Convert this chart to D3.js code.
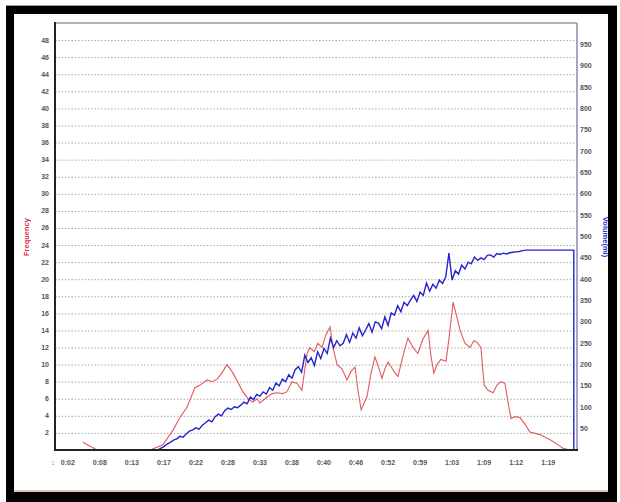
<!DOCTYPE html>
<html><head><meta charset="utf-8">
<script src="https://cdn.jsdelivr.net/npm/d3@7"></script>
<style>body{margin:0;background:#fff}svg{display:block}</style>
</head><body>
<svg id="c" width="620" height="502"></svg>
<script>
// ---- data ----
const xTickIdx = [4,14,24,34,44,54,64,74,84,94,104,114,124,134,144,154];
const xTickLabels = ["0:02","0:08","0:13","0:17","0:22","0:28","0:33","0:38","0:40","0:46","0:52","0:59","1:03","1:09","1:12","1:19"];
const leftTicks = [2,4,6,8,10,12,14,16,18,20,22,24,26,28,30,32,34,36,38,40,42,44,46,48];
const rightTicks = [50,100,150,200,250,300,350,400,450,500,550,600,650,700,750,800,850,900,950];

const freqIdx = [8.7,13.1,29.7,33.7,36.8,39.0,41.2,43.7,45.3,47.5,49.0,50.6,52.1,53.7,55.6,58.7,60.3,61.8,63.1,64.0,66.2,67.8,69.3,70.9,72.4,74.0,75.6,77.1,78.7,79.6,80.9,82.1,83.4,84.6,85.9,86.8,88.1,89.6,91.2,92.4,93.7,94.6,95.6,96.5,97.4,98.7,99.9,101.2,102.1,103.0,104.0,105.2,106.2,107.1,108.0,109.0,110.2,111.8,113.3,114.9,116.5,117.4,118.3,119.3,120.5,122.1,123.0,124.3,125.2,126.5,128.0,129.6,130.8,131.8,133.0,134.0,135.2,136.8,138.0,139.3,140.5,141.5,142.4,143.6,145.2,146.8,148.3,151.4,154.6,157.1,158.6,160.8];
const freqVals = [0.9,0,0,0.6,2.3,3.8,5.0,7.3,7.6,8.2,8.0,8.3,9.0,10.0,9.0,6.8,6.0,5.6,6.0,5.5,6.2,6.6,6.7,6.6,6.8,8.0,7.8,7.0,11.3,12.0,11.5,12.5,12.0,13.5,14.4,12.0,10.0,9.5,8.2,9.2,9.7,7.0,4.7,5.5,6.2,9.0,10.9,9.5,8.4,9.5,10.3,9.6,9.0,8.6,10.0,11.5,13.1,12.0,11.3,13.0,14.0,11.0,9.0,10.0,10.6,10.4,13.0,17.3,16.0,14.0,12.5,12.0,12.8,12.6,12.0,7.6,7.0,6.7,7.6,8.0,7.8,5.5,3.7,3.9,3.8,3.0,2.1,1.8,1.2,0.6,0.2,0];

const volStart = 32;
const volVals = [0,4,8,14,18,23,26,32,30,38,44,47,52,49,58,64,70,66,78,84,80,92,98,95,101,99,105,112,108,124,118,130,126,136,131,146,140,157,150,166,160,176,168,188,195,182,222,205,216,198,230,214,238,226,262,240,256,244,250,270,252,274,262,286,268,281,296,276,300,297,284,312,292,321,316,338,324,346,338,351,362,348,370,362,391,372,388,379,398,390,405,461,398,420,412,433,424,440,436,452,444,450,446,456,457,452,460,458,461,459,462,463,464,465,467,468];
const volTailIdx = [162,162];
const volTailVals = [468,0];

// ---- layout ----
const svg = d3.select("#c");
const L=55, R=577, T=23, B=450;
const x = d3.scaleLinear().domain([0,163]).range([L,R]);
const yL = d3.scaleLinear().domain([0,50]).range([B,T]);
const yR = d3.scaleLinear().domain([0,1000]).range([B,T]);

// frame
svg.append("rect").attr("x",6).attr("y",6).attr("width",611).attr("height",496).attr("fill","#000");
svg.append("rect").attr("x",14).attr("y",14).attr("width",594).attr("height",478).attr("fill","#fff");
svg.append("line").attr("x1",6).attr("x2",617).attr("y1",5.5).attr("y2",5.5).attr("stroke","#999");
svg.append("line").attr("x1",14).attr("x2",608).attr("y1",491).attr("y2",491).attr("stroke","#c08060").attr("stroke-width",1.5).attr("opacity",0.6);

// grid
svg.append("g").selectAll("line").data(leftTicks).join("line")
  .attr("x1",L).attr("x2",R).attr("y1",d=>yL(d)+0.5).attr("y2",d=>yL(d)+0.5)
  .attr("stroke","#a8a8a8").attr("stroke-width",1).attr("stroke-dasharray","1.5,1.8");

// top and right border
svg.append("line").attr("x1",L).attr("x2",R).attr("y1",T).attr("y2",T).attr("stroke","#999").attr("stroke-width",1.5);
svg.append("line").attr("x1",R).attr("x2",R).attr("y1",T).attr("y2",B).attr("stroke","#8a8aa8").attr("stroke-width",1.5);

// left axis labels
const font = "Liberation Sans, Arial, sans-serif";
svg.append("g").selectAll("text").data(leftTicks).join("text")
  .attr("x",49).attr("y",d=>yL(d)+2.5).attr("text-anchor","end")
  .attr("font-family",font).attr("font-size",7).attr("font-weight","bold").attr("fill","#555").text(d=>d);
// right axis labels
svg.append("g").selectAll("text").data(rightTicks).join("text")
  .attr("x",580).attr("y",d=>yR(d)+2.5).attr("text-anchor","start")
  .attr("font-family",font).attr("font-size",7).attr("font-weight","bold").attr("fill","#555").text(d=>d);
// x labels
svg.append("g").selectAll("text").data(xTickIdx).join("text")
  .attr("x",d=>x(d)).attr("y",465).attr("text-anchor","middle")
  .attr("font-family",font).attr("font-size",7).attr("font-weight","bold").attr("fill","#555").text((d,i)=>xTickLabels[i]);
svg.append("text").attr("x",x(0)-2).attr("y",465).attr("text-anchor","middle")
  .attr("font-family",font).attr("font-size",6).attr("fill","#aaa").text("1");

// axis titles
svg.append("text").attr("transform","translate(29,237) rotate(-90)").attr("text-anchor","middle")
  .attr("font-family",font).attr("font-size",7.5).attr("font-weight","bold").attr("fill","#e0304a").text("Frequency");
svg.append("text").attr("transform","translate(603,237) rotate(90)").attr("text-anchor","middle")
  .attr("font-family",font).attr("font-size",7.5).attr("font-weight","bold").attr("fill","#3030c8").text("Volume(ml)");

// series
const freqData = freqIdx.map((d,i)=>[d,freqVals[i]]);
const volData = volVals.map((v,i)=>[volStart+i,v]).concat(volTailIdx.map((d,i)=>[d,volTailVals[i]]));

svg.append("path").datum(freqData)
  .attr("d", d3.line().x(d=>x(d[0])).y(d=>yL(d[1])))
  .attr("fill","none").attr("stroke","#e05a5a").attr("stroke-width",1.1);
svg.append("path").datum(volData)
  .attr("d", d3.line().x(d=>x(d[0])).y(d=>yR(d[1])))
  .attr("fill","none").attr("stroke","#2424d0").attr("stroke-width",1.4);

// left and bottom axes
svg.append("line").attr("x1",L).attr("x2",L).attr("y1",T-1).attr("y2",B+1).attr("stroke","#222").attr("stroke-width",2);
svg.append("line").attr("x1",L).attr("x2",R+1).attr("y1",B).attr("y2",B).attr("stroke","#222").attr("stroke-width",2);
</script>
</body></html>
